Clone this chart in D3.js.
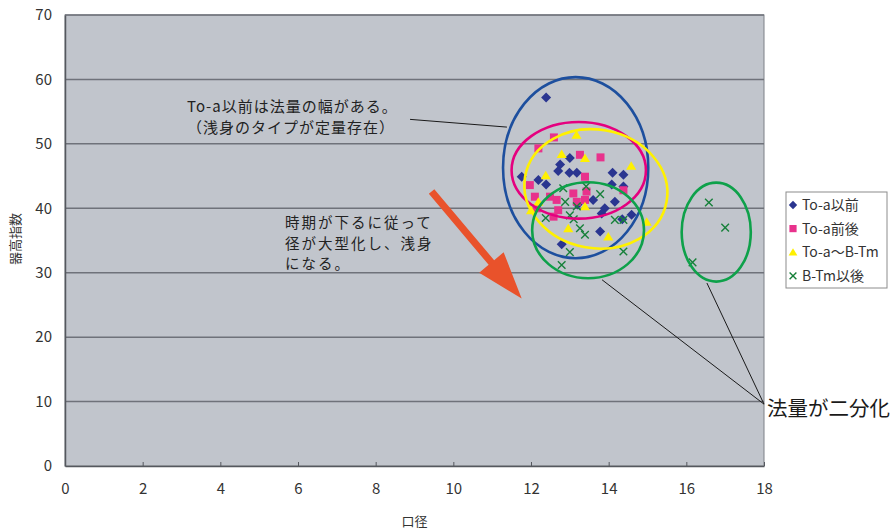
<!DOCTYPE html>
<html>
<head>
<meta charset="utf-8">
<script src="https://cdn.jsdelivr.net/npm/d3@7/dist/d3.min.js"></script>
<style>
  html, body { margin: 0; padding: 0; background: #ffffff; }
  svg { display: block; }
  text { font-family: "Noto Sans CJK JP", "Noto Sans", sans-serif; }
</style>
</head>
<body>
<svg id="chart" width="896" height="530"></svg>
<script>
// ---------- data ----------
const xTicks = [0, 2, 4, 6, 8, 10, 12, 14, 16, 18];
const yTicks = [0, 10, 20, 30, 40, 50, 60, 70];
const seriesNames = ["To-a以前", "To-a前後", "To-a〜B-Tm", "B-Tm以後"];

// [口径, 器高指数]
const toaBefore = [
  [12.39, 57.2], [13.0, 47.8], [12.75, 46.8], [12.7, 45.8], [12.99, 45.5],
  [13.18, 45.5], [14.1, 45.5], [14.38, 45.2], [11.76, 44.9], [12.19, 44.4],
  [12.39, 43.7], [14.08, 43.7], [14.38, 43.4], [13.6, 41.3], [13.9, 40.0],
  [13.82, 39.2], [14.16, 41.0], [14.59, 39.0], [13.78, 36.4], [12.79, 34.4],
  [13.2, 40.6], [14.35, 38.3]
];
const toaAround = [
  [12.59, 51.0], [12.19, 49.3], [13.26, 48.3], [13.79, 47.9], [13.39, 44.9],
  [11.97, 43.6], [12.1, 41.8], [12.15, 40.0], [12.49, 41.8], [12.66, 41.3],
  [12.7, 39.7], [12.58, 38.7], [13.09, 42.3], [13.18, 41.0], [13.39, 41.3],
  [13.43, 42.6], [14.38, 42.8]
];
const toaToBTm = [
  [13.17, 51.4], [12.79, 48.4], [13.39, 47.8], [14.58, 46.6], [12.38, 45.1],
  [13.39, 40.3], [12.19, 41.0], [12.96, 36.9], [13.99, 35.6], [14.98, 37.9],
  [12.0, 39.7]
];
const btmAfter = [
  [12.83, 43.1], [13.42, 43.4], [13.78, 42.2], [12.88, 41.0], [13.18, 40.3],
  [12.38, 38.5], [13.0, 38.9], [13.1, 38.3], [13.26, 36.9], [13.39, 35.9],
  [14.16, 38.2], [14.38, 38.2], [13.0, 33.2], [12.79, 31.2], [14.38, 33.3],
  [16.58, 40.9], [17.0, 37.0], [16.16, 31.6]
];

// annotation ellipses in data units: [cx, cy, rx, ry, rotationDeg]
const ellipseBlue   = [13.15, 46.3, 1.87, 14.05, 0];
const ellipsePink   = [13.23, 45.9, 1.73, 7.5, 0];
const ellipseYellow = [13.67, 43.0, 1.85, 9.2, 10];
const ellipseGreenA = [13.47, 36.6, 1.44, 7.45, 0];
const ellipseGreenB = [16.77, 36.3, 0.89, 7.68, 0];

// leader lines in data units
const leaderA  = [[8.885, 53.8], [11.38, 52.6]];
const leaderB1 = [[13.83, 28.9], [18.0, 9.6]];
const leaderB2 = [[16.53, 28.4], [18.0, 9.6]];
// arrow in data units
const arrowLine = [[9.44, 42.6], [11.76, 26.0]];

const note1 = ["To-a以前は法量の幅がある。", "（浅身のタイプが定量存在）"];
const note2 = ["時期が下るに従って", "径が大型化し、浅身", "になる。"];
const note3 = "法量が二分化";

// ---------- layout ----------
const svg = d3.select("#chart");
const L = 65, T = 15, R = 764, B = 466;
const x = d3.scaleLinear().domain([0, 18]).range([L, R]);
const y = d3.scaleLinear().domain([0, 70]).range([B, T]);

// plot background
svg.append("rect").attr("x", L).attr("y", T).attr("width", R - L).attr("height", B - T)
  .attr("fill", "#c1c5cc").attr("stroke", "#7d8087").attr("stroke-width", 1);

// gridlines
svg.append("g").selectAll("line").data(yTicks.filter(d => d > 0)).join("line")
  .attr("x1", L).attr("x2", R).attr("y1", d => y(d)).attr("y2", d => y(d))
  .attr("stroke", "#6f727a").attr("stroke-width", 1.5);

// axes
const yAxis = svg.append("g").attr("transform", `translate(${L},0)`)
  .call(d3.axisLeft(y).tickValues(yTicks).tickSize(0).tickPadding(13));
yAxis.select(".domain").attr("stroke", "#55585e").attr("stroke-width", 1.5);
yAxis.selectAll("text").attr("font-size", 15).attr("fill", "#333")
  .attr("font-family", "'Noto Sans CJK JP', sans-serif");

const xAxis = svg.append("g").attr("transform", `translate(0,${B})`)
  .call(d3.axisBottom(x).tickValues(xTicks).tickSizeInner(-4).tickSizeOuter(0).tickPadding(17));
xAxis.select(".domain").attr("stroke", "#55585e").attr("stroke-width", 1.5);
xAxis.selectAll("line").attr("stroke", "#55585e");
xAxis.selectAll("text").attr("font-size", 15).attr("fill", "#333")
  .attr("font-family", "'Noto Sans CJK JP', sans-serif");

// axis titles
svg.append("text").attr("transform", `translate(20,239) rotate(-90)`)
  .attr("text-anchor", "middle").attr("font-size", 13).attr("fill", "#333").text("器高指数");
svg.append("text").attr("x", (L + R) / 2).attr("y", 526)
  .attr("text-anchor", "middle").attr("font-size", 13).attr("fill", "#333").text("口径");

// ---------- markers ----------
const colors = { blue: "#2a3590", pink: "#e8328c", yellow: "#fff000", green: "#17803a" };
function diamond(s) { return `M0,${-s}L${s},0L0,${s}L${-s},0Z`; }
function square(s) { return `M${-s},${-s}H${s}V${s}H${-s}Z`; }
function triangle(s) { return `M0,${-s}L${s*1.1},${s*0.85}L${-s*1.1},${s*0.85}Z`; }
function cross(s) { return `M${-s},${-s}L${s},${s}M${s},${-s}L${-s},${s}`; }

const gPts = svg.append("g");
gPts.selectAll(".s1").data(toaBefore).join("path").attr("class", "s1")
  .attr("transform", d => `translate(${x(d[0])},${y(d[1])})`)
  .attr("d", diamond(5)).attr("fill", colors.blue);
gPts.selectAll(".s2").data(toaAround).join("path").attr("class", "s2")
  .attr("transform", d => `translate(${x(d[0])},${y(d[1])})`)
  .attr("d", square(4)).attr("fill", colors.pink);
gPts.selectAll(".s3").data(toaToBTm).join("path").attr("class", "s3")
  .attr("transform", d => `translate(${x(d[0])},${y(d[1])})`)
  .attr("d", triangle(4.6)).attr("fill", colors.yellow);
gPts.selectAll(".s4").data(btmAfter).join("path").attr("class", "s4")
  .attr("transform", d => `translate(${x(d[0])},${y(d[1])})`)
  .attr("d", cross(3.8)).attr("fill", "none").attr("stroke", colors.green).attr("stroke-width", 1.4);

// ---------- ellipses ----------
const pxPerX = x(1) - x(0), pxPerY = y(0) - y(1);
const ellipses = [
  [ellipseBlue, "#1d4f9e"], [ellipsePink, "#e5007f"], [ellipseYellow, "#fff100"],
  [ellipseGreenA, "#0ea14a"], [ellipseGreenB, "#0ea14a"]
];
svg.append("g").selectAll("ellipse").data(ellipses).join("ellipse")
  .attr("cx", d => x(d[0][0])).attr("cy", d => y(d[0][1]))
  .attr("rx", d => d[0][2] * pxPerX).attr("ry", d => d[0][3] * pxPerY)
  .attr("transform", d => `rotate(${d[0][4]},${x(d[0][0])},${y(d[0][1])})`)
  .attr("fill", "none").attr("stroke", d => d[1]).attr("stroke-width", 2.6);

// ---------- leader lines ----------
svg.append("g").selectAll("line").data([leaderA, leaderB1, leaderB2]).join("line")
  .attr("x1", d => x(d[0][0])).attr("y1", d => y(d[0][1]))
  .attr("x2", d => x(d[1][0])).attr("y2", d => y(d[1][1]))
  .attr("stroke", "#1a1a1a").attr("stroke-width", 1);

// ---------- arrow ----------
(function () {
  const x0 = x(arrowLine[0][0]), y0 = y(arrowLine[0][1]);
  const x1 = x(arrowLine[1][0]), y1 = y(arrowLine[1][1]);
  const dx = x1 - x0, dy = y1 - y0, len = Math.hypot(dx, dy);
  const ux = dx / len, uy = dy / len, nx = -uy, ny = ux;
  const headLen = 47, headHalf = 16, shaftHalf = 3.6;
  const bx = x1 - ux * headLen, by = y1 - uy * headLen;
  const pts = [
    [x0 + nx * shaftHalf, y0 + ny * shaftHalf],
    [bx + nx * shaftHalf, by + ny * shaftHalf],
    [bx + nx * headHalf, by + ny * headHalf],
    [x1, y1],
    [bx - nx * headHalf, by - ny * headHalf],
    [bx - nx * shaftHalf, by - ny * shaftHalf],
    [x0 - nx * shaftHalf, y0 - ny * shaftHalf]
  ];
  svg.append("path").attr("d", "M" + pts.map(p => p.join(",")).join("L") + "Z")
    .attr("fill", "#e9522b");
})();

// ---------- notes ----------
const n1 = svg.append("text").attr("font-size", 15).attr("fill", "#222").attr("letter-spacing", 1);
note1.forEach((t, i) => n1.append("tspan").attr("x", 187).attr("y", 112 + i * 21).text(t));
note2.forEach((t, i) => svg.append("text").attr("font-size", 14.5).attr("fill", "#222")
  .attr("letter-spacing", 2).attr("x", 285).attr("y", 228 + i * 20.5).text(t));
svg.append("text").attr("x", 767).attr("y", 416).attr("font-size", 20.5).attr("fill", "#1a1a1a").text(note3);

// ---------- legend ----------
const lg = svg.append("g");
lg.append("rect").attr("x", 786).attr("y", 192).attr("width", 101).attr("height", 96)
  .attr("fill", "#ffffff").attr("stroke", "#8c8c8c").attr("stroke-width", 1);
const legendItems = [
  [seriesNames[0], diamond(4.2), colors.blue, null],
  [seriesNames[1], square(3.6), colors.pink, null],
  [seriesNames[2], triangle(4), colors.yellow, null],
  [seriesNames[3], cross(3.4), "none", colors.green]
];
legendItems.forEach((it, i) => {
  const cy = 205 + i * 23.6;
  lg.append("path").attr("transform", `translate(793,${cy})`).attr("d", it[1])
    .attr("fill", it[2]).attr("stroke", it[3] || "none").attr("stroke-width", 1.4);
  lg.append("text").attr("x", 802).attr("y", cy + 5).attr("font-size", 14)
    .attr("fill", "#333").text(it[0]);
});
</script>
</body>
</html>
